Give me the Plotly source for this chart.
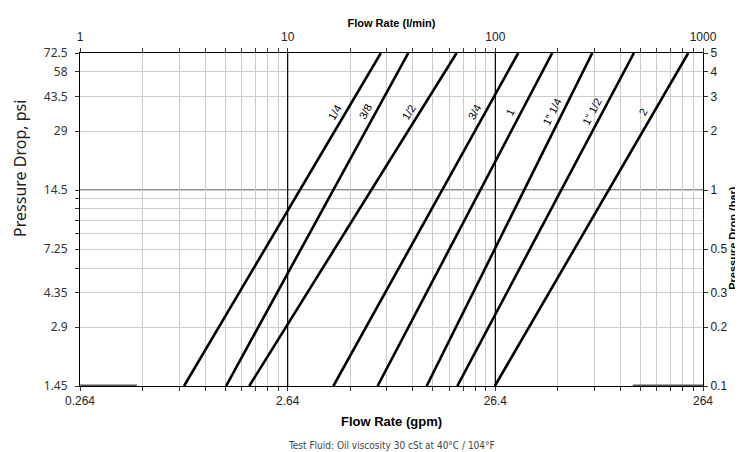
import math
import plotly.graph_objects as go

GPM_PER_LPM = 0.264
PSI_PER_BAR = 14.5

# pipe sizes and where each line meets the bottom (0.1 bar) and top (5 bar) of the chart
sizes = ['1/4', '3/8', '1/2', '3/4', '1', '1" 1/4', '1" 1/2', '2']
flow_at_low_lpm = [3.17, 5.05, 6.53, 16.6, 27.1, 46.7, 65.6, 99.5]
flow_at_high_lpm = [28.1, 38.1, 65.1, 128.9, 187.9, 293.0, 465.0, 849.0]
bar_low = 0.1
bar_high = 5.0

# short grey stubs lying on the bottom axis
stub_start_lpm = [1.0, 459.0]
stub_end_lpm = [1.88, 1000.0]

decades_lpm = [1, 10, 100, 1000]
gpm_labels = ['0.264', '2.64', '26.4', '264']
bar_ticks = [0.1, 0.2, 0.3, 0.5, 1, 2, 3, 4, 5]
bar_labels = ['0.1', '0.2', '0.3', '0.5', '1', '2', '3', '4', '5']
psi_labels = ['1.45', '2.9', '4.35', '7.25', '14.5', '29', '43.5', '58', '72.5']
bar_grid = [0.1, 0.2, 0.3, 0.4, 0.5, 0.6, 0.7, 0.8, 0.9, 1, 2, 3, 4, 5]

# the page body has an 8px margin, so the figure is 8px smaller than the window
W, H = 735, 444
M = dict(l=72, r=40, t=45, b=66)
plot_w = W - M['l'] - M['r']
plot_h = H - M['t'] - M['b']
px_per_dec_x = plot_w / 3.0
px_per_dec_y = plot_h / math.log10(bar_high / bar_low)

LABEL_BAR = 2.5

x_grid_lpm = [m * 10 ** k for k in range(3) for m in range(1, 10)] + [1000]

fig = go.Figure()

# stubs go on the main (gpm / psi) axes so that subplot has data too
for s0, s1 in zip(stub_start_lpm, stub_end_lpm):
    fig.add_trace(go.Scatter(
        x=[s0 * GPM_PER_LPM, s1 * GPM_PER_LPM],
        y=[bar_low * PSI_PER_BAR, bar_low * PSI_PER_BAR], mode='lines',
        line=dict(color='#555555', width=3),
        showlegend=False, hoverinfo='skip'))

for name, q0, q1 in zip(sizes, flow_at_low_lpm, flow_at_high_lpm):
    fig.add_trace(go.Scatter(
        x=[q0, q1], y=[bar_low, bar_high], mode='lines',
        line=dict(color='black', width=2.6),
        xaxis='x2', yaxis='y2', name=name, showlegend=False))
    # label sits just left of the line, rotated to follow it
    lq0, lq1 = math.log10(q0), math.log10(q1)
    lp0, lp1 = math.log10(bar_low), math.log10(bar_high)
    t = (math.log10(LABEL_BAR) - lp0) / (lp1 - lp0)
    lx = lq0 + t * (lq1 - lq0)
    ang = math.degrees(math.atan2((lp1 - lp0) * px_per_dec_y,
                                  (lq1 - lq0) * px_per_dec_x))
    fig.add_annotation(
        x=lx, y=math.log10(LABEL_BAR), xref='x2', yref='y2',
        text=name, showarrow=False, textangle=-ang, xshift=-11,
        font=dict(family='Liberation Sans, Arial', size=11, color='black'))

# darker reference lines (black verticals on top: they only meet black lines)
for q in decades_lpm[1:3]:
    fig.add_shape(type='line', xref='x2', yref='paper', x0=q, x1=q, y0=0, y1=1,
                  line=dict(color='black', width=1.2), layer='above')
fig.add_shape(type='line', xref='paper', yref='y2', x0=0, x1=1, y0=1, y1=1,
              line=dict(color='#666666', width=1.5), layer='between')

tick_font = dict(family='Liberation Sans, Arial', size=12, color='#222222')

fig.update_layout(
    width=W, height=H, margin=M,
    paper_bgcolor='white', plot_bgcolor='white',
    xaxis=dict(
        type='log', range=[math.log10(GPM_PER_LPM), math.log10(1000 * GPM_PER_LPM)],
        tickmode='array',
        tickvals=[q * GPM_PER_LPM for q in x_grid_lpm],
        ticktext=[gpm_labels[decades_lpm.index(q)] if q in decades_lpm else ''
                  for q in x_grid_lpm],
        ticks='outside', ticklen=4, tickcolor='#333333',
        showgrid=False, zeroline=False, automargin=False,
        showline=True, linecolor='black', linewidth=1,
        tickfont=tick_font,
        title=dict(text='<b>Flow Rate (gpm)</b>', standoff=9,
                   font=dict(family='Liberation Sans, Arial', size=13, color='black')),
    ),
    xaxis2=dict(
        type='log', range=[0, 3], overlaying='x', side='top', anchor='y',
        tickmode='array', tickvals=x_grid_lpm,
        ticktext=[str(q) if q in decades_lpm else '' for q in x_grid_lpm],
        ticks='outside', ticklen=4, tickcolor='#333333', ticklabelstandoff=2,
        showgrid=True, gridcolor='#cccccc', gridwidth=1, zeroline=False,
        automargin=False,
        showline=True, linecolor='black', linewidth=1,
        tickfont=tick_font,
        title=dict(text='<b>Flow Rate (l/min)</b>', standoff=0,
                   font=dict(family='Liberation Sans, Arial', size=11, color='black')),
    ),
    yaxis=dict(
        type='log', range=[math.log10(bar_low * PSI_PER_BAR), math.log10(bar_high * PSI_PER_BAR)],
        tickmode='array',
        tickvals=[b * PSI_PER_BAR for b in bar_grid],
        ticktext=[psi_labels[bar_ticks.index(b)] if b in bar_ticks else ''
                  for b in bar_grid],
        ticks='outside', ticklen=4, tickcolor='#333333', ticklabelstandoff=5,
        showgrid=True, gridcolor='#cccccc', gridwidth=1, zeroline=False,
        automargin=False,
        showline=True, linecolor='black', linewidth=1,
        tickfont=dict(family='Noto Sans, Open Sans', size=12, color='#333333'),
    ),
    yaxis2=dict(
        type='log', range=[math.log10(bar_low), math.log10(bar_high)],
        overlaying='y', side='right', anchor='x',
        tickmode='array', tickvals=bar_ticks, ticktext=bar_labels,
        ticks='outside', ticklen=4, tickcolor='#333333',
        showgrid=False, zeroline=False, automargin=False,
        showline=True, linecolor='black', linewidth=1,
        tickfont=tick_font,
    ),
)

fig.add_annotation(
    text='Pressure Drop, psi', xref='paper', yref='paper', x=0, y=0.652,
    xshift=-60, xanchor='center', yanchor='middle', textangle=-90, showarrow=False,
    font=dict(family='Noto Sans, Open Sans', size=16, color='#222222'))
fig.add_annotation(
    text='<b>Pressure Drop (bar)</b>', xref='paper', yref='paper', x=1, y=0.445,
    xshift=30, xanchor='center', yanchor='middle', textangle=-90, showarrow=False,
    font=dict(family='Liberation Sans, Arial', size=11, color='black'))
fig.add_annotation(
    text='Test Fluid: Oil viscosity 30 cSt at 40°C / 104°F',
    xref='paper', yref='paper', x=0.5, y=0, yshift=-59, xanchor='center',
    yanchor='middle', showarrow=False,
    font=dict(family='DejaVu Sans Condensed, DejaVu Sans', size=10, color='#444444'))

fig.write_html('out.html')
